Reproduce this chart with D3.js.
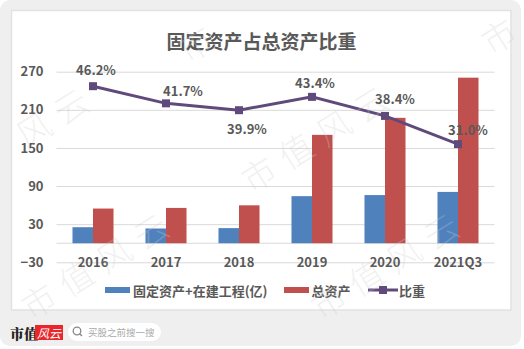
<!DOCTYPE html>
<html><head><meta charset="utf-8">
<script src="https://cdn.jsdelivr.net/npm/d3@7"></script>
<style>
html,body{margin:0;padding:0;background:#fff;}
svg{display:block;font-family:"Noto Sans CJK SC","Noto Sans",sans-serif;}
</style></head>
<body><svg id="c" width="524" height="349"></svg>
<script>
const categories = ["2016","2017","2018","2019","2020","2021Q3"];
const fixedAssets = [25.2, 23.2, 23.8, 74.1, 75.8, 80.8];
const totalAssets = [54.6, 55.6, 59.7, 170.6, 197.4, 260.6];
const ratio = [46.2, 41.7, 39.9, 43.4, 38.4, 31.0];
const yTicks = [-30, 30, 90, 150, 210, 270];
const seriesNames = ["固定资产+在建工程(亿)", "总资产", "比重"];
const title = "固定资产占总资产比重";
// label nudges (px) copied from the reference layout
const labelDx = [3, 17, 8, 3, 10, 10];
const labelDy = [-17, -13, 18, -14, -17, -15];

const BLUE = "#4F81BD", RED = "#C0504D", PURPLE = "#604A7B", TXT = "#595959";
const svg = d3.select("#c");

// card + panel
svg.append("rect").attr("x",0).attr("y",0).attr("width",521).attr("height",346).attr("rx",10).attr("fill","#efefef");
svg.append("rect").attr("x",11.5).attr("y",10.5).attr("width",499.5).attr("height",299.5).attr("fill","#fff").attr("stroke","#e2e2e2").attr("stroke-width",1.5);

const x = d3.scaleBand().domain(categories).range([56.5, 494.5]).paddingInner(0.438).paddingOuter(0.219);
const xs = d3.scaleBand().domain(["a","b"]).range([0, x.bandwidth()]);
const y = d3.scaleLinear().domain([-30, 270]).range([262.3, 71.7]);
const y2 = d3.scaleLinear().domain([0, 50]).range([262.3, 71.7]);
const cx = c => x(c) + x.bandwidth()/2;

// title
svg.append("text").attr("x",261.5).attr("y",40).attr("text-anchor","middle").attr("dominant-baseline","central")
  .attr("font-size",19).attr("font-weight",700).attr("fill",TXT).text(title);

// grid
const yAxis = d3.axisLeft(y).tickValues(yTicks).tickSize(-(494.5-56.5)).tickFormat(d3.format("d"));
const ga = svg.append("g").attr("transform","translate(56.5,0)").call(yAxis);
ga.select(".domain").remove();
ga.selectAll(".tick line").attr("stroke","#d9d9d9").attr("stroke-width",1);
ga.selectAll(".tick text").attr("x",-13).attr("font-size",13).attr("font-weight",700).attr("fill",TXT)
  .attr("font-family","'Noto Sans CJK SC',sans-serif");

// zero line
svg.append("line").attr("x1",56.5).attr("x2",494.5).attr("y1",y(0)).attr("y2",y(0)).attr("stroke","#d9d9d9");

// bars
const g = svg.append("g");
g.selectAll(".b1").data(categories).enter().append("rect")
  .attr("x",c=>x(c)+xs("a")).attr("width",xs.bandwidth())
  .attr("y",(c,i)=>y(fixedAssets[i])).attr("height",(c,i)=>y(0)-y(fixedAssets[i])).attr("fill",BLUE);
g.selectAll(".b2").data(categories).enter().append("rect")
  .attr("x",c=>x(c)+xs("b")).attr("width",xs.bandwidth())
  .attr("y",(c,i)=>y(totalAssets[i])).attr("height",(c,i)=>y(0)-y(totalAssets[i])).attr("fill",RED);

// x axis labels
const xAxis = d3.axisBottom(x).tickSize(0);
const gx = svg.append("g").attr("transform",`translate(0,${y(-30)})`).call(xAxis);
gx.select(".domain").remove();
gx.selectAll(".tick text").attr("y",0).attr("dy","0.35em").attr("font-size",13).attr("font-weight",700).attr("fill",TXT)
  .attr("font-family","'Noto Sans CJK SC',sans-serif");

// line
const line = d3.line().x((d,i)=>cx(categories[i])).y(d=>y2(d));
svg.append("path").datum(ratio).attr("d",line).attr("fill","none").attr("stroke",PURPLE).attr("stroke-width",3);
svg.selectAll(".mk").data(ratio).enter().append("rect")
  .attr("x",(d,i)=>cx(categories[i])-4).attr("y",d=>y2(d)-4).attr("width",8).attr("height",8).attr("fill",PURPLE);
svg.selectAll(".lbl").data(ratio).enter().append("text")
  .attr("x",(d,i)=>cx(categories[i])+labelDx[i]).attr("y",(d,i)=>y2(d)+labelDy[i])
  .attr("text-anchor","middle").attr("dominant-baseline","central")
  .attr("font-size",13).attr("font-weight",700).attr("fill",TXT).text(d=>d.toFixed(1)+"%");

// legend
const ly = 290;
const lg = svg.append("g").attr("font-size",13).attr("font-weight",700).attr("fill",TXT);
lg.append("rect").attr("x",105).attr("y",ly-3).attr("width",25).attr("height",6).attr("fill",BLUE);
lg.append("text").attr("x",133).attr("y",ly).attr("dominant-baseline","central").text(seriesNames[0]);
lg.append("rect").attr("x",284).attr("y",ly-3).attr("width",25).attr("height",6).attr("fill",RED);
lg.append("text").attr("x",311.5).attr("y",ly).attr("dominant-baseline","central").text(seriesNames[1]);
lg.append("line").attr("x1",368).attr("x2",398).attr("y1",ly).attr("y2",ly).attr("stroke",PURPLE).attr("stroke-width",3);
lg.append("rect").attr("x",379).attr("y",ly-4).attr("width",8).attr("height",8).attr("fill",PURPLE);
lg.append("text").attr("x",399).attr("y",ly).attr("dominant-baseline","central").text(seriesNames[2]);

// watermarks (drawn per character, only where a whole glyph fits)
const wmStarts = [[240,173],[20,300],[310,300],[177,43],[480,35],[-60,175]];
const wmChars = "市值风云".split("");
const ang = -32 * Math.PI/180, step = 44;
const wm = svg.append("g").attr("pointer-events","none");
wmStarts.forEach(([wx,wy])=>{
  wmChars.forEach((ch,k)=>{
    const px = wx + 18 + k*step*Math.cos(ang), py = wy + k*step*Math.sin(ang);
    if (px < 22 || px > 502 || py < 22 || py > 327) return;
    wm.append("text").attr("transform",`translate(${px},${py}) rotate(-32)`)
      .attr("font-size",34).attr("font-weight",300)
      .attr("dominant-baseline","central").attr("text-anchor","middle")
      .attr("fill","rgba(205,205,205,0.28)").text(ch);
  });
});

// footer brand
svg.append("text").attr("x",10).attr("y",333).attr("dominant-baseline","central")
  .attr("font-size",14).attr("font-weight",900).attr("fill","#222")
  .attr("font-family","'Noto Serif CJK SC','Noto Sans CJK SC',serif").text("市值");
svg.append("rect").attr("x",35).attr("y",325).attr("width",28).attr("height",15).attr("fill","#e8262c");
svg.append("text").attr("x",49).attr("y",332.5).attr("text-anchor","middle").attr("dominant-baseline","central")
  .attr("font-size",12).attr("font-style","italic").attr("fill","#fff").text("风云");
svg.append("rect").attr("x",68).attr("y",323).attr("width",93).attr("height",18).attr("rx",9).attr("fill","#fff");
svg.append("circle").attr("cx",77).attr("cy",331).attr("r",3.8).attr("fill","none").attr("stroke","#888").attr("stroke-width",1.3);
svg.append("line").attr("x1",79.7).attr("y1",333.7).attr("x2",82).attr("y2",336).attr("stroke","#888").attr("stroke-width",1.3);
svg.append("text").attr("x",88).attr("y",332).attr("dominant-baseline","central")
  .attr("font-size",9.5).attr("fill","#aaa").text("买股之前搜一搜");
</script></body></html>
